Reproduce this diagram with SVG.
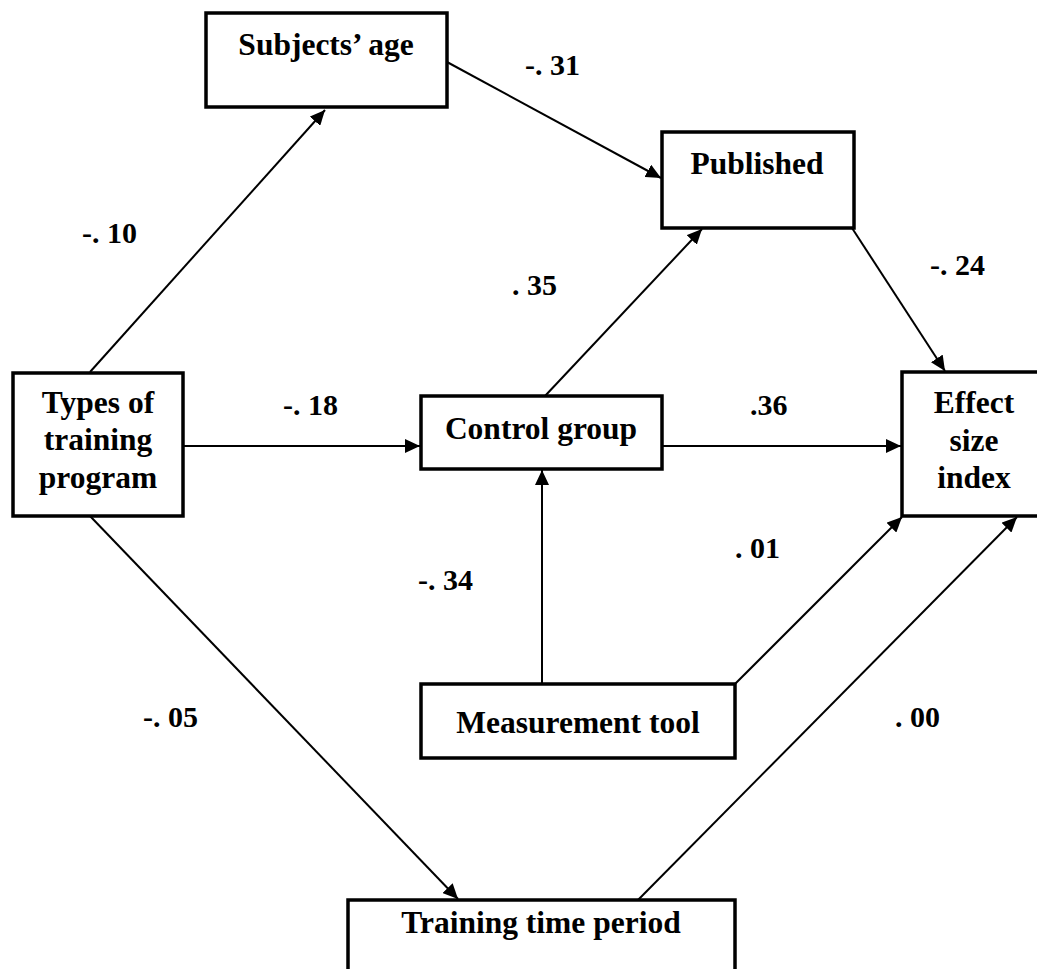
<svg xmlns="http://www.w3.org/2000/svg" width="1037" height="969" viewBox="0 0 1037 969">
<style>
.box{fill:#fff;stroke:#000;stroke-width:3.5}
.t{font-family:"Liberation Serif","Times New Roman",serif;font-weight:bold;font-size:31.5px;fill:#000;text-anchor:middle}
.l{font-family:"Liberation Serif","Times New Roman",serif;font-weight:bold;font-size:30px;fill:#000}
.c{fill:none;stroke:#000;stroke-width:2;marker-end:url(#ah)}
</style>
<defs>
<marker id="ah" markerUnits="userSpaceOnUse" markerWidth="16" markerHeight="14" refX="15" refY="7" orient="auto">
<path d="M0,0 L15,7 L0,14 z" fill="#000"/>
</marker>
</defs>
<rect width="1037" height="969" fill="#fff"/>
<g id="connectors">
<line class="c" x1="90" y1="372" x2="325" y2="110"/>
<line class="c" x1="447" y1="62" x2="661" y2="178"/>
<line class="c" x1="545" y1="396" x2="702" y2="229"/>
<line class="c" x1="852" y1="228" x2="945" y2="371"/>
<line class="c" x1="183" y1="446" x2="420" y2="446"/>
<line class="c" x1="662" y1="446" x2="901" y2="446"/>
<line class="c" x1="542" y1="684" x2="542" y2="470"/>
<line class="c" x1="735" y1="684" x2="902" y2="517"/>
<line class="c" x1="90" y1="516" x2="458" y2="899"/>
<line class="c" x1="638" y1="900" x2="1017" y2="517"/>
</g>
<g id="age"><rect class="box" x="206" y="13" width="241" height="94"/><text class="t" x="326" y="55">Subjects’ age</text></g>
<g id="published"><rect class="box" x="662" y="132" width="192" height="96"/><text class="t" x="757" y="174">Published</text></g>
<g id="types"><rect class="box" x="13" y="373" width="170" height="143"/><text class="t" x="98" y="413">Types of</text><text class="t" x="98" y="450">training</text><text class="t" x="98" y="488">program</text></g>
<g id="control"><rect class="box" x="421" y="396" width="241" height="73"/><text class="t" x="541" y="439">Control group</text></g>
<g id="effect"><rect class="box" x="902" y="372" width="150" height="144"/><text class="t" x="974" y="413">Effect</text><text class="t" x="974" y="451">size</text><text class="t" x="974" y="488">index</text></g>
<g id="measure"><rect class="box" x="421" y="684" width="314" height="74"/><text class="t" x="578" y="733">Measurement tool</text></g>
<g id="training"><rect class="box" x="348" y="900" width="387" height="100"/><text class="t" x="541" y="933">Training time period</text></g>
<g id="labels">
<text class="l" x="82" y="243">-. 10</text>
<text class="l" x="525" y="75">-. 31</text>
<text class="l" x="930" y="275">-. 24</text>
<text class="l" x="512" y="295">. 35</text>
<text class="l" x="283" y="415">-. 18</text>
<text class="l" x="750" y="415">.36</text>
<text class="l" x="418" y="590">-. 34</text>
<text class="l" x="735" y="558">. 01</text>
<text class="l" x="143" y="727">-. 05</text>
<text class="l" x="895" y="727">. 00</text>
</g>
</svg>
